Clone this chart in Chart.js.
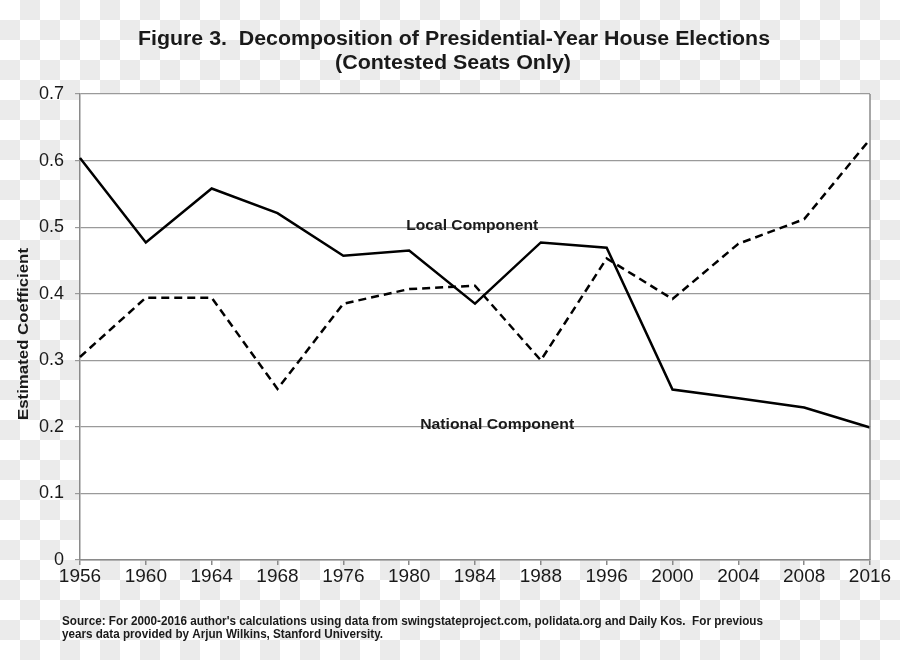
<!DOCTYPE html>
<html>
<head>
<meta charset="utf-8">
<script src="https://cdn.jsdelivr.net/npm/chart.js@4/dist/chart.umd.min.js"></script>
<style>
  html, body { margin: 0; padding: 0; }
  body {
    width: 900px; height: 660px; overflow: hidden;
    background: repeating-conic-gradient(#ebebeb 0 25%, #ffffff 0 50%) 0 0 / 40px 40px;
  }
  #wrap { position: relative; width: 900px; height: 660px; }
</style>
</head>
<body>
<div id="wrap"><canvas id="c" width="900" height="660"></canvas></div>
<script>
// ---- data ----
const years = ['1956','1960','1964','1968','1976','1980','1984','1988','1996','2000','2004','2008','2016'];
const localComponent = [0.604, 0.477, 0.558, 0.521, 0.457, 0.465, 0.385, 0.477, 0.469, 0.256, 0.243, 0.229, 0.199];
const nationalComponent = [0.305, 0.394, 0.394, 0.257, 0.385, 0.407, 0.412, 0.300, 0.453, 0.392, 0.475, 0.512, 0.632];
const yTicks = [0, 0.1, 0.2, 0.3, 0.4, 0.5, 0.6, 0.7];

const titleLines = ['Figure 3.  Decomposition of Presidential-Year House Elections', '(Contested Seats Only)'];
const yTitle = 'Estimated Coefficient';
const localLabel = 'Local Component';
const nationalLabel = 'National Component';
const sourceLines = [
  "Source: For 2000-2016 author's calculations using data from swingstateproject.com, polidata.org and Daily Kos.  For previous",
  "years data provided by Arjun Wilkins, Stanford University."
];

const FONT = '"Liberation Sans Narrow", "Liberation Sans", Arial, Helvetica, sans-serif';
const TFONT = '"Liberation Sans", Arial, Helvetica, sans-serif';
const TXT = '#1a1a1a';

function fitText(ctx, text, x, y, font, width, align) {
  ctx.save();
  ctx.font = font;
  ctx.textAlign = align || 'left';
  ctx.textBaseline = 'alphabetic';
  const w = ctx.measureText(text).width;
  ctx.translate(x, y);
  ctx.scale(width / w, 1);
  ctx.fillText(text, 0, 0);
  ctx.restore();
}

const decor = {
  id: 'decor',
  beforeDraw(chart) {
    const { ctx, chartArea: a } = chart;
    ctx.save();
    ctx.fillStyle = '#ffffff';
    ctx.fillRect(a.left, a.top, a.right - a.left, a.bottom - a.top);
    ctx.restore();
  },
  afterDraw(chart) {
    const { ctx, chartArea: a, scales } = chart;
    ctx.save();
    // right border
    ctx.strokeStyle = '#8a8a8a';
    ctx.lineWidth = 1.5;
    ctx.beginPath();
    ctx.moveTo(a.right, a.top);
    ctx.lineTo(a.right, a.bottom);
    ctx.stroke();
    ctx.fillStyle = TXT;
    // title
    fitText(ctx, titleLines[0], 454, 45, 'bold 20px ' + FONT, 632, 'center');
    fitText(ctx, titleLines[1], 453, 69, 'bold 20px ' + FONT, 236, 'center');
    // y axis title
    ctx.save();
    ctx.translate(28, 334);
    ctx.rotate(-Math.PI / 2);
    fitText(ctx, yTitle, 0, 0, 'bold 15px ' + TFONT, 172, 'center');
    ctx.restore();
    // series annotations
    const x = scales.x, y = scales.y;
    fitText(ctx, localLabel, x.getPixelForValue(5) - 3, y.getPixelForValue(0.5) + 3, 'bold 15px ' + TFONT, 132, 'left');
    fitText(ctx, nationalLabel, x.getPixelForValue(5) + 11, y.getPixelForValue(0.2) + 2, 'bold 15px ' + TFONT, 154, 'left');
    // source
    fitText(ctx, sourceLines[0], 62, 625, 'bold 12px ' + FONT, 701, 'left');
    fitText(ctx, sourceLines[1], 62, 638, 'bold 12px ' + FONT, 321, 'left');
    ctx.restore();
  }
};

new Chart(document.getElementById('c'), {
  type: 'line',
  data: {
    labels: years,
    datasets: [
      {
        label: localLabel,
        data: localComponent,
        borderColor: '#000',
        borderWidth: 2.5,
        pointRadius: 0,
        tension: 0,
        fill: false
      },
      {
        label: nationalLabel,
        data: nationalComponent,
        borderColor: '#000',
        borderWidth: 2.5,
        borderDash: [8, 5],
        pointRadius: 0,
        tension: 0,
        fill: false
      }
    ]
  },
  options: {
    responsive: false,
    animation: false,
    devicePixelRatio: 1,
    layout: { padding: { top: 94, right: 30, left: 0, bottom: 0 } },
    plugins: { legend: { display: false }, tooltip: { enabled: false }, title: { display: false } },
    scales: {
      x: {
        offset: false,
        grid: { drawOnChartArea: false, drawTicks: true, tickLength: 5, color: '#8a8a8a', lineWidth: 1.5 },
        border: { color: '#8a8a8a', width: 1.5 },
        ticks: { color: TXT, font: { family: TFONT, size: 19 }, padding: 0, maxRotation: 0, autoSkip: false },
        afterFit(s) { s.height = 100; }
      },
      y: {
        min: 0, max: 0.7,
        afterBuildTicks(s) { s.ticks = yTicks.map(v => ({ value: v })); },
        grid: { color: '#9a9a9a', lineWidth: 1.2, tickLength: 5 },
        border: { color: '#8a8a8a', width: 1.5 },
        ticks: {
          color: TXT, font: { family: TFONT, size: 18 }, padding: 11,
          callback: v => (v === 0 ? '0' : Number(v).toFixed(1))
        },
        afterFit(s) { s.width = 80; }
      }
    }
  },
  plugins: [decor]
});
</script>
</body>
</html>
